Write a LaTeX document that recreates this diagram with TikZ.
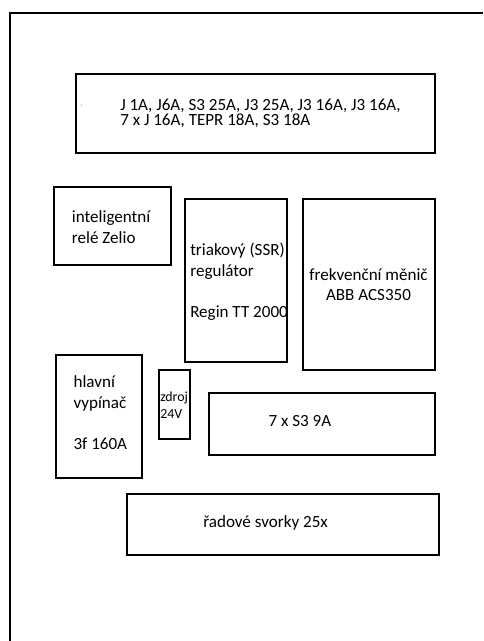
\documentclass[tikz,border=0pt]{standalone}
\usepackage{fontspec}
\setmainfont{Carlito}

\begin{document}
\begin{tikzpicture}[x=0.75pt, y=-0.75pt,
    box/.style={line width=1.5pt},
    txt/.style={anchor=base west, align=left, inner sep=0pt,
        font=\fontsize{12.8}{15.4}\selectfont}]
    \useasboundingbox (0,0) rectangle (483,641);

    % ram rozvadece
    \draw[box] (10,641) -- (10,13) -- (483,13);

    % skrine
    \draw[box] (76,74) rectangle (435,153);
    \draw[box] (53.5,187.5) rectangle (170.5,264.5);
    \draw[box] (185,199) rectangle (287,361.5);
    \draw[box] (302.5,199) rectangle (435,369.5);
    \draw[box] (56,354.5) rectangle (142,477.5);
    \draw[box] (158.5,369.5) rectangle (190,439);
    \draw[box] (208.5,392.5) rectangle (435,455);
    \draw[box] (127,494) rectangle (439,555);

    % tecka
    \fill[violet!50] (81.5,105) circle (0.7);

    % popisky (base = posledni radek)
    \node[txt, font=\fontsize{12.8}{11.6}\selectfont] (jistice) at (120,125.5)
        {J 1A, J6A, S3 25A, J3 25A, J3 16A, J3 16A,\\7 x J 16A, TEPR 18A, S3 18A};
    \node[txt] (rele) at (71.7,243.5) {inteligentní\\relé Zelio};
    \node[txt] (triak) at (190,317.5) {triakový (SSR)\\regulátor\\[15.4pt]Regin TT 2000};
    \node[txt, anchor=center, align=center] (menic) at (368.5,284.5) {frekvenční měnič\\ABB ACS350};
    \node[txt] (vypinac) at (73.3,449.5) {hlavní\\vypínač\\[15.4pt]3f 160A};
    \node[txt, font=\fontsize{10.4}{12.7}\selectfont] (zdroj) at (160,418) {zdroj\\24V};
    \node[txt] (jistice9) at (268.3,426) {7 x S3 9A};
    \node[txt] (svorky) at (203,527) {řadové svorky 25x};
\end{tikzpicture}
\end{document}
